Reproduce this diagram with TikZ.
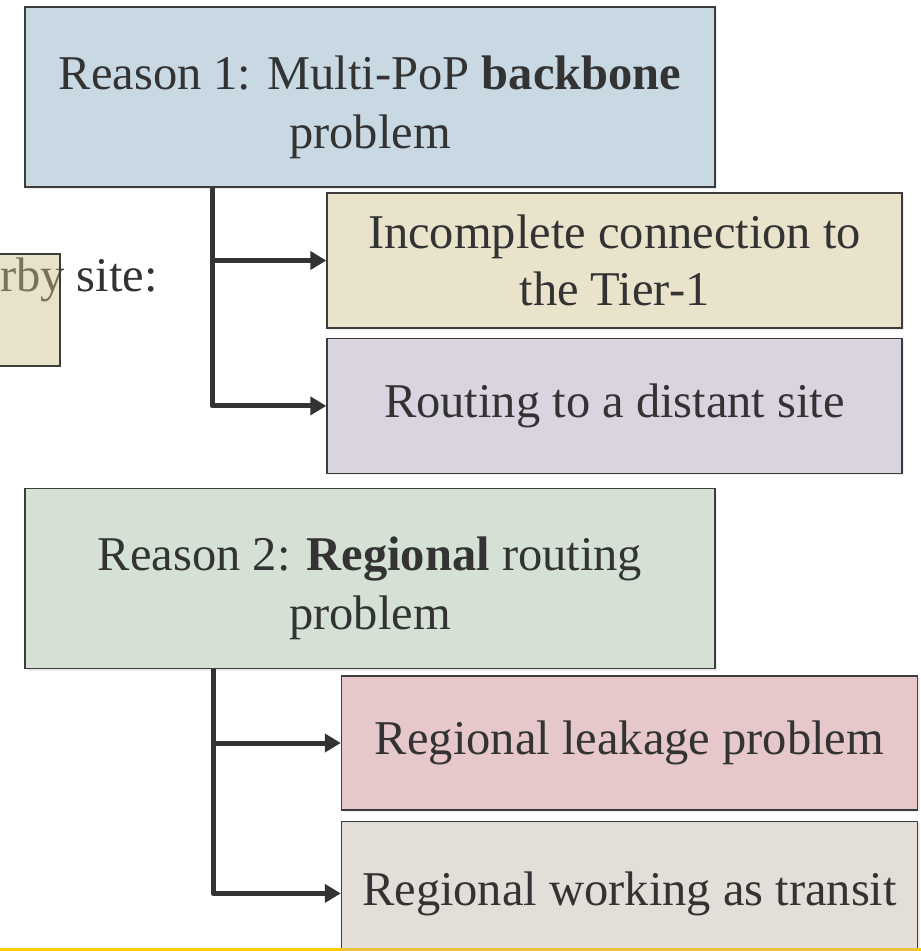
\documentclass[tikz,border=0pt]{standalone}
\usepackage{fontspec}
\setmainfont{Liberation Serif}
\usetikzlibrary{arrows.meta,positioning,shadows}

\definecolor{txt}{HTML}{333333}
\definecolor{boxline}{HTML}{3C3C3C}
\definecolor{bluefill}{HTML}{C9D9E3}
\definecolor{sandfill}{HTML}{EAE3CB}
\definecolor{lilacfill}{HTML}{DAD4E0}
\definecolor{sagefill}{HTML}{D6E1D6}
\definecolor{rosefill}{HTML}{E6C8CB}
\definecolor{greyfill}{HTML}{E3DED7}
\definecolor{nearbyfill}{RGB}{204,191,140}
\definecolor{gold}{HTML}{FFCC00}
\definecolor{dimgold}{HTML}{E8C43C}

\newcommand{\topstrut}{\rule{0pt}{54pt}}

\begin{document}
\begin{tikzpicture}
		[x=1pt,y=-1pt,
		box/.style={draw=boxline,line width=1.4pt,align=center,text=txt,inner sep=0pt,
			font=\fontsize{48.5}{57}\selectfont,minimum width=575pt,minimum height=135pt,
			drop shadow={opacity=.15,shadow xshift=2pt,shadow yshift=-2pt}},
		reason/.style={box,font=\fontsize{48.5}{59}\selectfont,minimum width=690pt,minimum height=180pt},
		branch/.style={draw=txt,line width=5pt,line join=round,
			-{Triangle[length=16pt,width=18pt]}}]
		\useasboundingbox (0,0) rectangle (921,951);
		
		% cut-off box on the left
		\node[anchor=base east,inner sep=0pt,text=txt,font=\fontsize{48.5}{57}\selectfont] (nearbytext) at (158,291) {rby site:};
		\node[draw=boxline,line width=1.4pt,fill=nearbyfill,fill opacity=.45,
		minimum width=300pt,minimum height=112pt] (nearby) at (-90,310) {};
		
		\node[reason,fill=bluefill] (reason1) at (370,97) {\topstrut Reason 1: Multi-PoP \textbf{backbone}\\problem};
		\node[box,fill=sandfill] (incomplete) at (614.5,260.5) {Incomplete connection to\\the Tier-1};
		\node[box,fill=lilacfill,below=9pt of incomplete] (routing) {Routing to a distant site};
		
		\node[reason,fill=sagefill] (reason2) at (370,578.5) {\topstrut Reason 2: \textbf{Regional} routing\\problem};
		\node[box,fill=rosefill,minimum width=576pt,minimum height=134pt] (leakage) at (629.5,743) {Regional leakage problem};
		\node[box,fill=greyfill,minimum width=576pt,minimum height=144pt,below=10pt of leakage] (transit) {Regional working as transit};
		
		\coordinate (trunk1) at (212,0);
		\coordinate (trunk2) at (213,0);
		
		\draw[branch] (trunk1 |- reason1.south) |- (routing.west);
		\draw[branch] (trunk1 |- incomplete.west) -- (incomplete.west);
		\draw[branch] (trunk2 |- reason2.south) |- (transit.west);
		\draw[branch] (trunk2 |- leakage.west) -- (leakage.west);
		
		% yellow rule at the bottom
		\draw[gold,line width=3.5pt] (0,949.5) -- (921,949.5);
		\draw[dimgold,line width=3.5pt] (transit.west |- 0,949.5) -- (transit.east |- 0,949.5);
		\end{tikzpicture}
\end{document}
